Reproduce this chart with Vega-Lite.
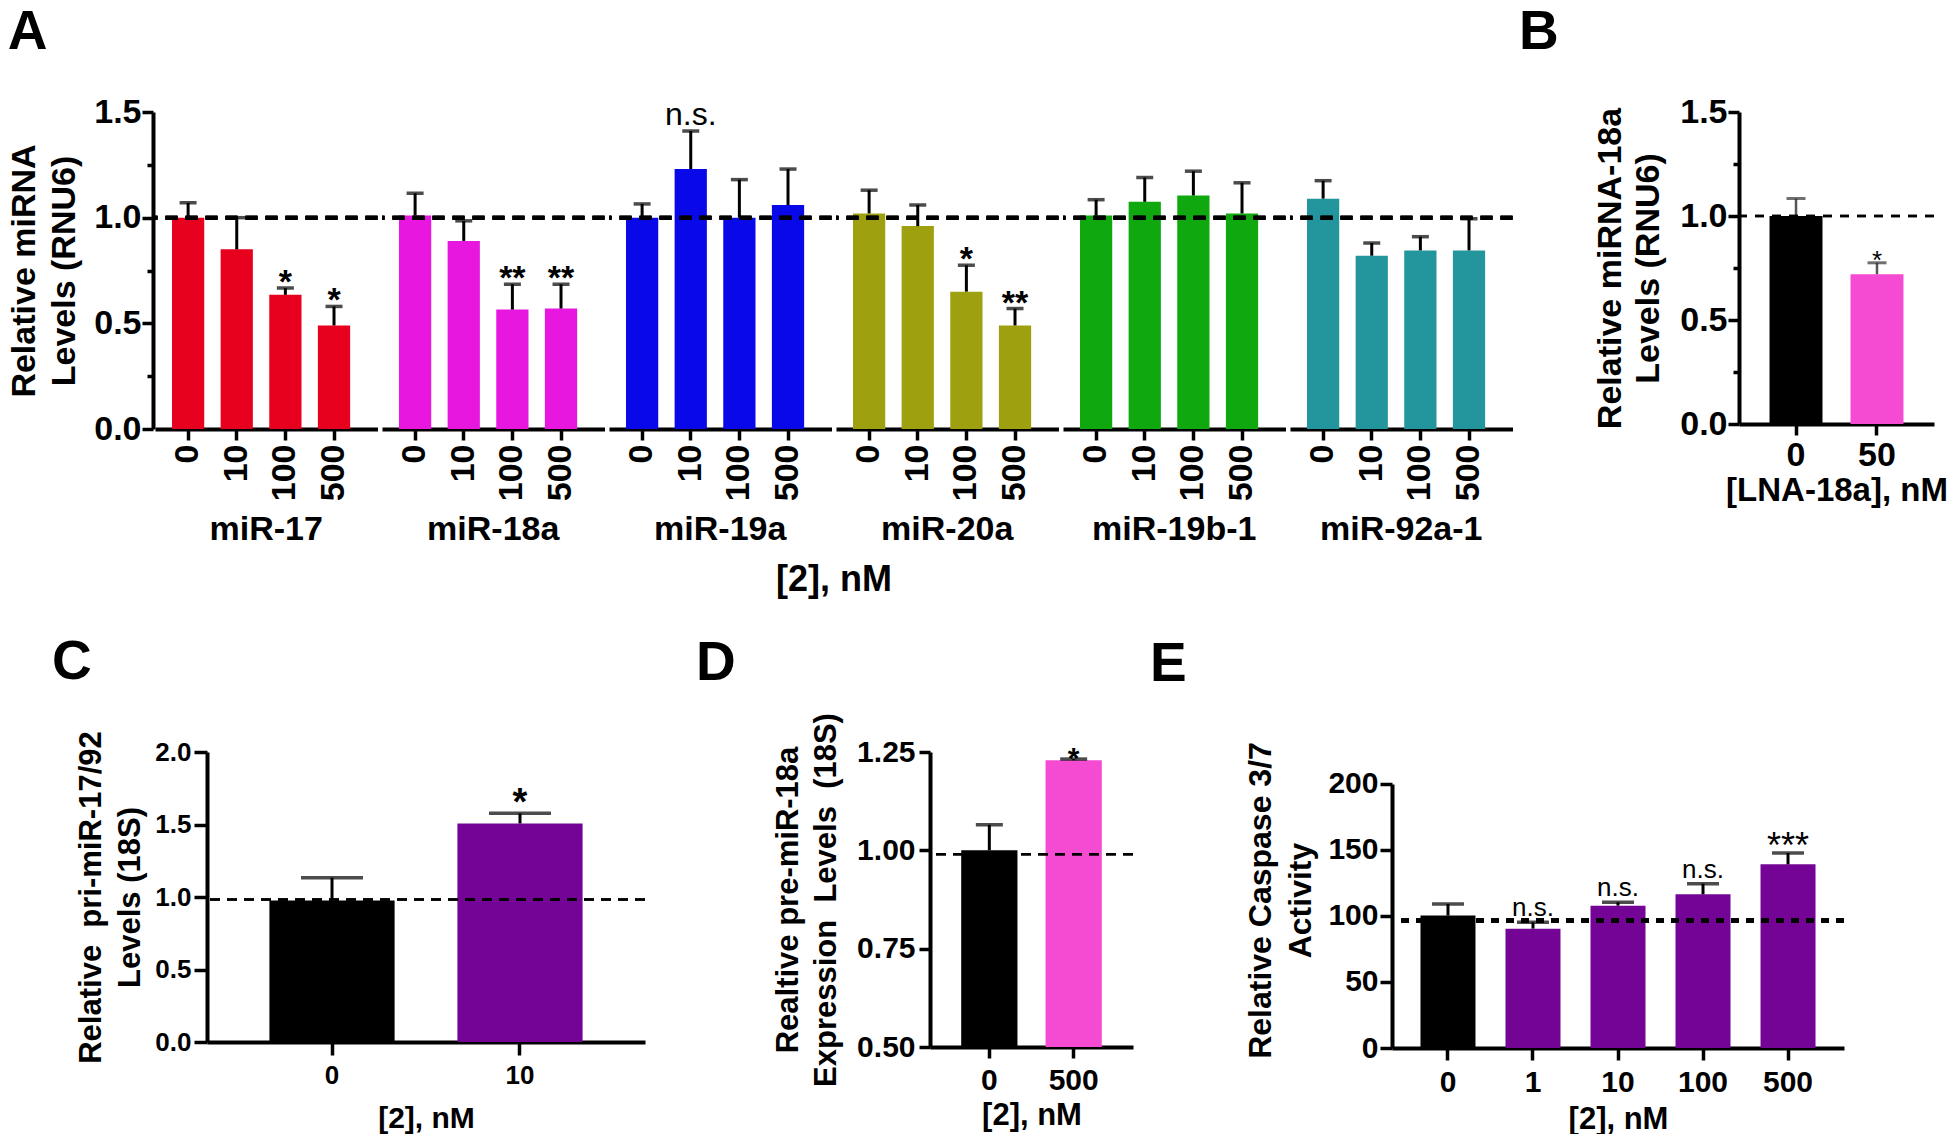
{
  "$schema": "https://vega.github.io/schema/vega-lite/v6.json",
  "background": "white",
  "padding": {"left": 0, "top": 5, "right": 0, "bottom": 0},
  "config": {
    "view": {"stroke": null},
    "font": "Liberation Sans",
    "axis": {"domainColor": "black", "domainWidth": 4, "tickColor": "black", "tickWidth": 3.5, "tickSize": 11, "labelColor": "black", "labelFont": "Liberation Sans", "labelFontWeight": "bold", "labelFontSize": 34, "labelPadding": 1, "titleColor": "black", "titleFont": "Liberation Sans", "titleFontWeight": "bold", "titleFontSize": 34, "grid": false},
    "title": {"fontSize": 55, "fontWeight": "bold", "font": "Liberation Sans", "color": "black", "anchor": "start"}
  },
  "spacing": 36,
  "vconcat": [
    {
      "spacing": 6,
      "hconcat": [
        {"width": 1, "height": 1, "data": {"values": []}, "mark": "point"},
        {
          "spacing": 4,
          "hconcat": [
            {
              "title": {"text": "A", "frame": "bounds", "offset": 34},
              "data": {"values": [
                {"group": "miR-17", "conc": "0", "value": 1.0, "upper": 1.07, "sig": ""},
                {"group": "miR-17", "conc": "10", "value": 0.85, "upper": 1.0, "sig": ""},
                {"group": "miR-17", "conc": "100", "value": 0.635, "upper": 0.667, "sig": "*"},
                {"group": "miR-17", "conc": "500", "value": 0.49, "upper": 0.58, "sig": "*"},
                {"group": "miR-18a", "conc": "0", "value": 1.01, "upper": 1.115, "sig": ""},
                {"group": "miR-18a", "conc": "10", "value": 0.89, "upper": 0.985, "sig": ""},
                {"group": "miR-18a", "conc": "100", "value": 0.565, "upper": 0.685, "sig": "**"},
                {"group": "miR-18a", "conc": "500", "value": 0.57, "upper": 0.685, "sig": "**"},
                {"group": "miR-19a", "conc": "0", "value": 1.0, "upper": 1.065, "sig": ""},
                {"group": "miR-19a", "conc": "10", "value": 1.23, "upper": 1.41, "sig": "n.s."},
                {"group": "miR-19a", "conc": "100", "value": 1.0, "upper": 1.18, "sig": ""},
                {"group": "miR-19a", "conc": "500", "value": 1.06, "upper": 1.23, "sig": ""},
                {"group": "miR-20a", "conc": "0", "value": 1.02, "upper": 1.13, "sig": ""},
                {"group": "miR-20a", "conc": "10", "value": 0.96, "upper": 1.06, "sig": ""},
                {"group": "miR-20a", "conc": "100", "value": 0.65, "upper": 0.775, "sig": "*"},
                {"group": "miR-20a", "conc": "500", "value": 0.49, "upper": 0.57, "sig": "**"},
                {"group": "miR-19b-1", "conc": "0", "value": 1.01, "upper": 1.085, "sig": ""},
                {"group": "miR-19b-1", "conc": "10", "value": 1.075, "upper": 1.19, "sig": ""},
                {"group": "miR-19b-1", "conc": "100", "value": 1.105, "upper": 1.22, "sig": ""},
                {"group": "miR-19b-1", "conc": "500", "value": 1.02, "upper": 1.165, "sig": ""},
                {"group": "miR-92a-1", "conc": "0", "value": 1.09, "upper": 1.175, "sig": ""},
                {"group": "miR-92a-1", "conc": "10", "value": 0.82, "upper": 0.88, "sig": ""},
                {"group": "miR-92a-1", "conc": "100", "value": 0.845, "upper": 0.91, "sig": ""},
                {"group": "miR-92a-1", "conc": "500", "value": 0.845, "upper": 0.995, "sig": ""}
              ]},
              "facet": {"column": {"field": "group", "type": "nominal", "sort": ["miR-17", "miR-18a", "miR-19a", "miR-20a", "miR-19b-1", "miR-92a-1"],
                "header": {"title": "[2], nM", "titleOrient": "bottom", "labelOrient": "bottom", "labelFontSize": 34, "labelFont": "Liberation Sans", "labelFontWeight": "bold", "labelColor": "black", "labelPadding": 12, "titleFontSize": 36, "titleFont": "Liberation Sans", "titleFontWeight": "bold", "titleColor": "black", "titlePadding": 6}}},
              "spacing": 0,
              "spec": {
                "width": 222.5,
                "height": 317,
                "layer": [
                  {
                    "encoding": {"x": {"field": "conc", "type": "nominal", "sort": ["0", "10", "100", "500"], "scale": {"paddingInner": 0.337, "paddingOuter": 0.456, "align": 0.383}, "axis": {"title": null, "labelAngle": -90, "labelPadding": 4}}},
                    "layer": [
                      {"mark": {"type": "bar"}, "encoding": {
                        "y": {"field": "value", "type": "quantitative", "scale": {"domain": [0, 1.5], "nice": false}, "axis": {"values": [0, 0.5, 1, 1.5], "format": ".1f", "title": ["Relative miRNA", "Levels (RNU6)"], "titleLineHeight": 40, "titlePadding": 12}},
                        "color": {"field": "group", "type": "nominal", "scale": {"domain": ["miR-17", "miR-18a", "miR-19a", "miR-20a", "miR-19b-1", "miR-92a-1"], "range": ["#E8001F", "#E817E0", "#0808E8", "#9FA00F", "#0FA90F", "#22969C"]}, "legend": null}}},
                      {"mark": {"type": "rule", "color": "black", "strokeWidth": 3}, "encoding": {"y": {"field": "value", "type": "quantitative"}, "y2": {"field": "upper"}}},
                      {"mark": {"type": "tick", "size": 17, "thickness": 3.5, "color": "black"}, "encoding": {"y": {"field": "upper", "type": "quantitative"}}},
                      {"transform": [{"filter": "datum.sig == '*' || datum.sig == '**'"}], "mark": {"type": "text", "fontSize": 34, "fontWeight": "bold", "baseline": "alphabetic", "dy": 5, "color": "black"}, "encoding": {"y": {"field": "upper", "type": "quantitative"}, "text": {"field": "sig"}}},
                      {"transform": [{"filter": "datum.sig == 'n.s.'"}], "mark": {"type": "text", "fontSize": 32, "baseline": "alphabetic", "dy": -6, "color": "black"}, "encoding": {"y": {"field": "upper", "type": "quantitative"}, "text": {"field": "sig"}}}
                    ]
                  },
                  {"mark": {"type": "rule", "strokeDash": [12, 8], "strokeWidth": 4, "color": "black"}, "encoding": {"y": {"datum": 1, "type": "quantitative", "axis": {"orient": "left", "values": [0.25, 0.75, 1.25], "labels": false, "domain": false, "tickSize": 6, "title": null}}}}
                ],
                "resolve": {"axis": {"y": "independent"}}
              }
            },
            {
              "title": {"text": "B", "frame": "group", "dx": -220, "offset": 34},
              "width": 195,
              "height": 312,
              "data": {"values": [
                {"conc": "0", "value": 1.0, "upper": 1.084, "sig": ""},
                {"conc": "50", "value": 0.72, "upper": 0.775, "sig": "*"}
              ]},
              "layer": [
                {
                  "encoding": {"x": {"field": "conc", "type": "nominal", "sort": ["0", "50"], "scale": {"paddingInner": 0.346, "paddingOuter": 0.377}, "axis": {"title": "[LNA-18a], nM", "labelAngle": 0, "labelPadding": 3, "titlePadding": 2, "titleFontSize": 33}}},
                  "layer": [
                    {"mark": {"type": "bar"}, "encoding": {
                      "y": {"field": "value", "type": "quantitative", "scale": {"domain": [0, 1.5], "nice": false}, "axis": {"values": [0, 0.5, 1, 1.5], "format": ".1f", "title": ["Relative miRNA-18a", "Levels (RNU6)"], "titleLineHeight": 38, "titlePadding": 14}},
                      "color": {"condition": {"test": "datum.conc == '0'", "value": "black"}, "value": "#F54BD2"}}},
                    {"mark": {"type": "rule", "color": "#555", "strokeWidth": 2.5}, "encoding": {"y": {"field": "value", "type": "quantitative"}, "y2": {"field": "upper"}}},
                    {"mark": {"type": "tick", "size": 19, "thickness": 3, "color": "#333"}, "encoding": {"y": {"field": "upper", "type": "quantitative"}}},
                    {"transform": [{"filter": "datum.sig != ''"}], "mark": {"type": "text", "fontSize": 26, "baseline": "alphabetic", "dy": 6, "color": "black"}, "encoding": {"y": {"field": "upper", "type": "quantitative"}, "text": {"field": "sig"}}}
                  ]
                },
                {"mark": {"type": "rule", "strokeDash": [9, 8], "strokeWidth": 2.5, "color": "black"}, "encoding": {"y": {"datum": 1, "type": "quantitative", "axis": {"orient": "left", "values": [0.25, 0.75, 1.25], "labels": false, "domain": false, "tickSize": 6, "title": null}}}}
              ],
              "resolve": {"axis": {"y": "independent"}}
            }
          ]
        }
      ]
    },
    {
      "spacing": 51,
      "hconcat": [
        {"width": 1, "height": 1, "data": {"values": []}, "mark": "point"},
        {
          "spacing": 49,
          "hconcat": [
            {
              "title": {"text": "C", "frame": "group", "dx": -155, "offset": 40},
              "width": 438,
              "height": 290,
              "data": {"values": [
                {"conc": "0", "value": 0.976, "upper": 1.133, "sig": ""},
                {"conc": "10", "value": 1.507, "upper": 1.577, "sig": "*"}
              ]},
              "layer": [
                {
                  "encoding": {"x": {"field": "conc", "type": "nominal", "sort": ["0", "10"], "scale": {"paddingInner": 0.334, "paddingOuter": 0.332}, "axis": {"title": "[2], nM", "labelAngle": 0, "tickSize": 13, "labelPadding": 7, "titlePadding": 15, "labelFontSize": 26, "titleFontSize": 30}}},
                  "layer": [
                    {"mark": {"type": "bar"}, "encoding": {
                      "y": {"field": "value", "type": "quantitative", "scale": {"domain": [0, 2], "nice": false}, "axis": {"values": [0, 0.5, 1, 1.5, 2], "format": ".1f", "tickSize": 13, "labelPadding": 3, "title": ["Relative\u00a0 pri-miR-17/92", "Levels (18S)"], "titleLineHeight": 39, "titlePadding": 8, "labelFontSize": 26, "titleFontSize": 31}},
                      "color": {"condition": {"test": "datum.conc == '0'", "value": "black"}, "value": "#740496"}}},
                    {"mark": {"type": "rule", "color": "black", "strokeWidth": 3}, "encoding": {"y": {"field": "value", "type": "quantitative"}, "y2": {"field": "upper"}}},
                    {"mark": {"type": "tick", "size": 62, "thickness": 3.5, "color": "black"}, "encoding": {"y": {"field": "upper", "type": "quantitative"}}},
                    {"transform": [{"filter": "datum.sig != ''"}], "mark": {"type": "text", "fontSize": 38, "fontWeight": "bold", "baseline": "alphabetic", "dy": 2, "color": "black"}, "encoding": {"y": {"field": "upper", "type": "quantitative"}, "text": {"field": "sig"}}}
                  ]
                },
                {"mark": {"type": "rule", "strokeDash": [10, 7], "strokeWidth": 2.5, "color": "black"}, "encoding": {"y": {"datum": 0.983, "type": "quantitative"}}}
              ]
            },
            {
              "spacing": 15,
              "hconcat": [
                {
                  "title": {"text": "D", "frame": "group", "dx": -234, "offset": 21},
                  "width": 203,
                  "height": 295,
                  "data": {"values": [
                    {"conc": "0", "value": 1.0, "upper": 1.065, "sig": ""},
                    {"conc": "500", "value": 1.229, "upper": 1.232, "sig": "*"}
                  ]},
                  "layer": [
                    {
                      "encoding": {"x": {"field": "conc", "type": "nominal", "sort": ["0", "500"], "scale": {"paddingInner": 0.333, "paddingOuter": 0.37}, "axis": {"title": "[2], nM", "labelAngle": 0, "labelPadding": 7, "titlePadding": 5, "labelFontSize": 30, "titleFontSize": 31}}},
                      "layer": [
                        {"mark": {"type": "bar"}, "encoding": {
                          "y": {"field": "value", "type": "quantitative", "scale": {"domain": [0.5, 1.25], "nice": false, "zero": false}, "axis": {"values": [0.5, 0.75, 1, 1.25], "format": ".2f", "labelPadding": 4, "title": ["Realtive pre-miR-18a", "Expression\u00a0 Levels\u00a0 (18S)"], "titleLineHeight": 38, "titlePadding": 14, "labelFontSize": 30, "titleFontSize": 31}},
                          "y2": {"datum": 0.5},
                          "color": {"condition": {"test": "datum.conc == '0'", "value": "black"}, "value": "#F54BD2"}}},
                        {"mark": {"type": "rule", "color": "black", "strokeWidth": 3}, "encoding": {"y": {"field": "value", "type": "quantitative"}, "y2": {"field": "upper"}}},
                        {"mark": {"type": "tick", "size": 27, "thickness": 3.5, "color": "black"}, "encoding": {"y": {"field": "upper", "type": "quantitative"}}},
                        {"transform": [{"filter": "datum.sig != ''"}], "mark": {"type": "text", "fontSize": 30, "fontWeight": "bold", "baseline": "alphabetic", "dy": 9, "color": "black"}, "encoding": {"y": {"field": "upper", "type": "quantitative"}, "text": {"field": "sig"}}}
                      ]
                    },
                    {"mark": {"type": "rule", "strokeDash": [10, 7], "strokeWidth": 2.5, "color": "black"}, "encoding": {"y": {"datum": 0.99, "type": "quantitative"}}}
                  ]
                },
                {
                  "title": {"text": "E", "frame": "group", "dx": -242, "offset": 49},
                  "width": 452,
                  "height": 296,
                  "data": {"values": [
                    {"conc": "0", "value": 100.3, "upper": 109.1, "sig": ""},
                    {"conc": "1", "value": 90.4, "upper": 95.2, "sig": "n.s."},
                    {"conc": "10", "value": 107.8, "upper": 110.4, "sig": "n.s."},
                    {"conc": "100", "value": 116.4, "upper": 124.5, "sig": "n.s."},
                    {"conc": "500", "value": 139.1, "upper": 147.7, "sig": "***"}
                  ]},
                  "layer": [
                    {
                      "encoding": {"x": {"field": "conc", "type": "nominal", "sort": ["0", "1", "10", "100", "500"], "scale": {"paddingInner": 0.353, "paddingOuter": 0.335}, "axis": {"title": "[2], nM", "labelAngle": 0, "tickSize": 12, "labelPadding": 7, "titlePadding": 7, "labelFontSize": 30, "titleFontSize": 31}}},
                      "layer": [
                        {"mark": {"type": "bar"}, "encoding": {
                          "y": {"field": "value", "type": "quantitative", "scale": {"domain": [0, 224.2], "nice": false}, "axis": {"values": [0, 50, 100, 150, 200], "domainDash": [264, 60], "tickSize": 12, "labelPadding": 2, "title": ["Relative Caspase 3/7", "Activity"], "titleLineHeight": 40, "titlePadding": 10, "labelFontSize": 30, "titleFontSize": 32}},
                          "color": {"condition": {"test": "datum.conc == '0'", "value": "black"}, "value": "#740496"}}},
                        {"mark": {"type": "rule", "color": "black", "strokeWidth": 3}, "encoding": {"y": {"field": "value", "type": "quantitative"}, "y2": {"field": "upper"}}},
                        {"mark": {"type": "tick", "size": 32, "thickness": 3.5, "color": "black"}, "encoding": {"y": {"field": "upper", "type": "quantitative"}}},
                        {"transform": [{"filter": "datum.sig == '***'"}], "mark": {"type": "text", "fontSize": 36, "baseline": "alphabetic", "dy": 5, "color": "black"}, "encoding": {"y": {"field": "upper", "type": "quantitative"}, "text": {"field": "sig"}}},
                        {"transform": [{"filter": "datum.sig == 'n.s.'"}], "mark": {"type": "text", "fontSize": 26, "baseline": "alphabetic", "dy": -6, "color": "black"}, "encoding": {"y": {"field": "upper", "type": "quantitative"}, "text": {"field": "sig"}}}
                      ]
                    },
                    {"mark": {"type": "rule", "strokeDash": [8, 7], "strokeWidth": 4, "color": "black"}, "encoding": {"y": {"datum": 96.5, "type": "quantitative"}}}
                  ]
                }
              ]
            }
          ]
        }
      ]
    }
  ]
}
